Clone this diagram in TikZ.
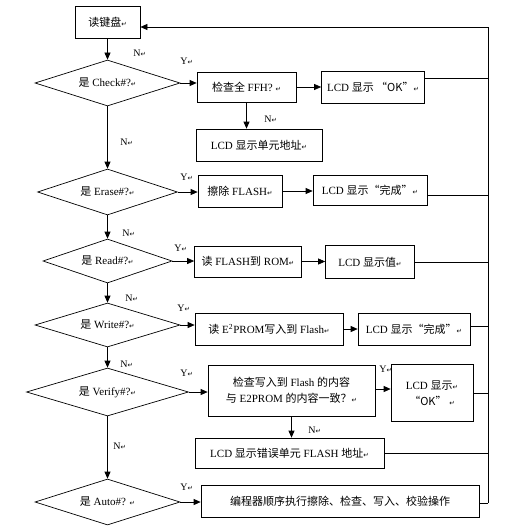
\documentclass[tikz,border=0pt]{standalone}
\usepackage{fontspec}
\setmainfont{Liberation Serif}
\newfontfamily\cjk{Noto Sans CJK SC}
\newfontfamily\symf{DejaVu Sans}
\usetikzlibrary{arrows.meta,shapes.geometric}
\tikzset{>={Triangle[width=6pt,length=7pt]}}
\newcommand\zh[1]{{\cjk #1}}
\newcommand\pmk{{\symf\fontsize{6.5}{6.5}\selectfont ↵}}
\tikzset{
  box/.style={draw, rectangle, inner sep=0pt, align=center, font=\fontsize{11}{16}\selectfont},
  dec/.style={draw, diamond, aspect=3, inner sep=0pt, font=\fontsize{11}{13}\selectfont},
  yn/.style={anchor=west, inner sep=0pt, font=\fontsize{10}{12}\selectfont},
}

\begin{document}
\begin{tikzpicture}[x=1pt, y=-1pt, line width=0.7pt]
  \useasboundingbox (0,0) rectangle (525,532);

  \newcommand\cx{107.5}
  \newcommand\bx{488}

  %% main column
  \node[box, minimum width=65pt, minimum height=32pt] (kbd) at (\cx,22) {\zh{读键盘}\pmk};
  \node[dec, minimum width=145pt, minimum height=46pt] (chk) at (\cx,83) {\zh{是} Check\#?\pmk};
  \node[dec, minimum width=140pt, minimum height=46pt] (era) at (\cx,192) {\zh{是} Erase\#?\pmk};
  \node[dec, minimum width=129pt, minimum height=44pt] (rd) at (\cx,261) {\zh{是} Read\#?\pmk};
  \node[dec, minimum width=145pt, minimum height=44pt] (wr) at (\cx,325) {\zh{是} Write\#?\pmk};
  \node[dec, minimum width=162pt, minimum height=48pt] (vf) at (\cx,392) {\zh{是} Verify\#?\pmk};
  \node[dec, minimum width=145pt, minimum height=46pt] (aut) at (\cx,502) {\zh{是} Auto\#? \pmk};

  %% action boxes
  \node[box, minimum width=99pt, minimum height=30pt] (ffh) at (246.5,87) {\zh{检查全} FFH? \pmk};
  \node[box, minimum width=103pt, minimum height=32pt] (ok1) at (373,87) {LCD \zh{显示 “OK”}\pmk};
  \node[box, minimum width=126pt, minimum height=32pt] (addr) at (259,145) {LCD \zh{显示单元地址}\pmk};
  \node[box, minimum width=84pt, minimum height=32pt] (erf) at (240,191) {\zh{擦除} FLASH\pmk};
  \node[box, minimum width=114pt, minimum height=30pt] (done1) at (370,190) {LCD \zh{显示“完成”}\pmk};
  \node[box, minimum width=107pt, minimum height=31pt] (rdf) at (248,261.5) {\zh{读} FLASH\zh{到} ROM\pmk};
  \node[box, minimum width=89pt, minimum height=33pt] (val) at (370,262) {LCD \zh{显示值}\pmk};
  \node[box, minimum width=148pt, minimum height=32pt] (wrf) at (269,329) {\zh{读} E\textsuperscript{2}PROM\zh{写入到} Flash\pmk};
  \node[box, minimum width=112pt, minimum height=32pt] (done2) at (414,329) {LCD \zh{显示“完成”}\pmk};
  \node[box, minimum width=167pt, minimum height=51pt] (cmp) at (291.5,390.5)
    {\zh{检查写入到} Flash \zh{的内容}\\\zh{与} E2PROM \zh{的内容一致？}\pmk};
  \node[box, minimum width=82pt, minimum height=57pt] (ok2) at (432,393) {LCD \zh{显示}\pmk\\\zh{“OK”} \pmk};
  \node[box, minimum width=189pt, minimum height=30pt] (err) at (289.5,453) {LCD \zh{显示错误单元} FLASH \zh{地址}\pmk};
  \node[box, minimum width=278pt, minimum height=32pt] (seq) at (340,501) {\zh{编程器顺序执行擦除、检查、写入、校验操作}};

  %% N / Y marks
  \node[yn] (n1) at (133,53) {N\pmk};
  \node[yn] (y1) at (180,61) {Y\pmk};
  \node[yn] (n2) at (120,142) {N\pmk};
  \node[yn] (n3) at (264,119) {N\pmk};
  \node[yn] (y2) at (180,177) {Y\pmk};
  \node[yn] (n4) at (122,233) {N\pmk};
  \node[yn] (y3) at (174,248) {Y\pmk};
  \node[yn] (n5) at (125,298) {N\pmk};
  \node[yn] (y4) at (177,308) {Y\pmk};
  \node[yn] (n6) at (120,364) {N\pmk};
  \node[yn] (y5) at (180,373) {Y\pmk};
  \node[yn] (y6) at (379,369) {Y\pmk};
  \node[yn] (n7) at (308,430) {N\pmk};
  \node[yn] (n8) at (113,446) {N\pmk};
  \node[yn] (y7) at (180,487) {Y\pmk};

  %% N branch downwards
  \draw[->] (kbd) -- (chk);
  \draw[->] (chk) -- (era);
  \draw[->] (era) -- (rd);
  \draw[->] (rd) -- (wr);
  \draw[->] (wr) -- (vf);
  \draw[->] (vf) -- (aut);

  %% Y branches
  \draw[->] (chk) -- (chk -| ffh.west);
  \draw[->] (ffh) -- (ok1);
  \draw[->] (ffh.south) -- (ffh.south |- addr.north);
  \draw[->] (era) -- (era -| erf.west);
  \draw[->] (erf) -- (done1.west |- erf);
  \draw[->] (rd) -- (rd -| rdf.west);
  \draw[->] (rdf) -- (val.west |- rdf);
  \draw[->] (wr) -- (wr -| wrf.west);
  \draw[->] (wrf) -- (done2);
  \draw[->] (vf) -- (vf -| cmp.west);
  \draw[->] ([yshift=1.5pt]cmp.east) -- ([yshift=1.5pt]cmp.east -| ok2.west);
  \draw[->] (cmp.south) -- (cmp.south |- err.north);
  \draw[->] (aut) -- (aut -| seq.west);

  %% back to the keyboard
  \coordinate (bustop) at (\bx,27);
  \coordinate (busbot) at (\bx,503);
  \draw[->] (busbot) -- (bustop) -- ([yshift=-5pt]kbd.east);
  \draw ([yshift=9pt]ok1.east) -- ([yshift=9pt]ok1.east -| bustop);
  \draw ([yshift=-5pt]done1.east) -- ([yshift=-5pt]done1.east -| bustop);
  \draw (val.east) -- (val.east -| bustop);
  \draw ([yshift=3pt]done2.east) -- ([yshift=3pt]done2.east -| bustop);
  \draw (ok2.east) -- (ok2.east -| bustop);
  \draw (err.east) -- (err.east -| bustop);
  \draw ([yshift=-2pt]seq.east) -- (busbot);
\end{tikzpicture}
\end{document}
